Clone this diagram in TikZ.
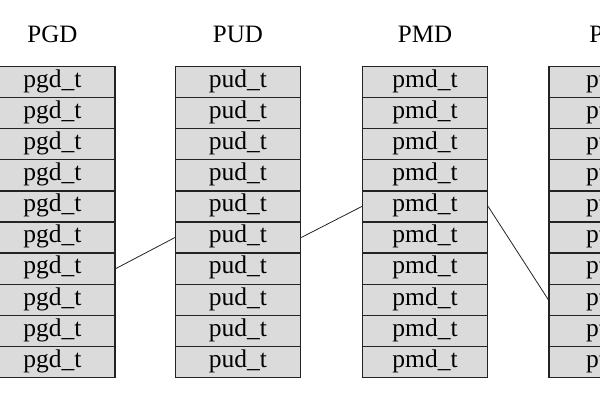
\documentclass[tikz,border=0pt]{standalone}
\usepackage{fontspec}
\setmainfont{Liberation Serif}
\definecolor{cellgray}{RGB}{219,219,219}
\definecolor{linegray}{RGB}{35,35,35}
\begin{document}
\begin{tikzpicture}[x=1pt,y=-1pt,
  cell/.style={draw=linegray, fill=cellgray, line width=1.3pt, minimum width=125pt,
    minimum height=31.1pt, inner sep=0pt, text height=16pt, text depth=5.5pt,
    font=\fontsize{25.5}{25.5}\selectfont},
  coltitle/.style={font=\fontsize{25}{25}\selectfont, anchor=base, inner sep=0pt},
  link/.style={draw=linegray, line width=0.8pt}]
\useasboundingbox (0,0) rectangle (600,400);
\clip (0,0) rectangle (600,400);
\node[coltitle] (tg) at (52.5,42) {PGD};
\node[coltitle] (tu) at (238,42) {PUD};
\node[coltitle] (tm) at (425,42) {PMD};
\node[coltitle] (tp) at (611.5,42) {PTE};
\foreach \i in {1,...,10} {
  \node[cell] (g\i) at (52.5,{66.5+(\i-0.5)*31.1}) {pgd\_t};
  \node[cell] (u\i) at (238,{66.5+(\i-0.5)*31.1}) {pud\_t};
  \node[cell] (m\i) at (425,{66.5+(\i-0.5)*31.1}) {pmd\_t};
  \node[cell] (p\i) at (611.5,{66.5+(\i-0.5)*31.1}) {pte\_t};
}
\draw[link] (g7.east) -- (u6.west);
\draw[link] (u6.east) -- (m5.west);
\draw[link] (m5.east) -- (p8.west);
\end{tikzpicture}
\end{document}
